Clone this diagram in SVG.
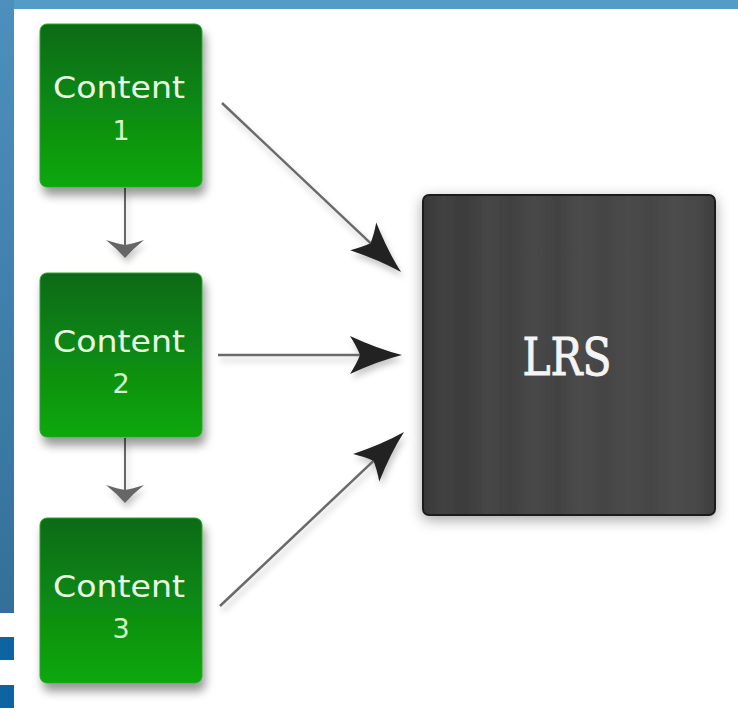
<svg xmlns="http://www.w3.org/2000/svg" width="738" height="714" viewBox="0 0 738 714">
  <defs>
    <linearGradient id="gGreen" x1="0" y1="0" x2="0" y2="1">
      <stop offset="0" stop-color="#0a6a19"/>
      <stop offset="1" stop-color="#09a80c"/>
    </linearGradient>
    <linearGradient id="gSide" x1="0" y1="0" x2="0" y2="1">
      <stop offset="0" stop-color="#4d90bd"/>
      <stop offset="1" stop-color="#346f99"/>
    </linearGradient>
    <linearGradient id="gDark" x1="0" y1="0" x2="1" y2="0">
      <stop offset="0" stop-color="#383838"/>
      <stop offset="0.07" stop-color="#424242"/>
      <stop offset="0.14" stop-color="#3c3c3c"/>
      <stop offset="0.22" stop-color="#464646"/>
      <stop offset="0.3" stop-color="#414141"/>
      <stop offset="0.38" stop-color="#484848"/>
      <stop offset="0.46" stop-color="#424242"/>
      <stop offset="0.54" stop-color="#4b4b4b"/>
      <stop offset="0.62" stop-color="#444444"/>
      <stop offset="0.7" stop-color="#4b4b4b"/>
      <stop offset="0.78" stop-color="#454545"/>
      <stop offset="0.86" stop-color="#4d4d4d"/>
      <stop offset="0.94" stop-color="#474747"/>
      <stop offset="1" stop-color="#3e3e3e"/>
    </linearGradient>
    <filter id="boxShadow" x="-20%" y="-20%" width="150%" height="150%">
      <feDropShadow dx="3" dy="8" stdDeviation="5" flood-color="#000" flood-opacity="0.4"/>
    </filter>
    <filter id="glow" x="-20%" y="-20%" width="140%" height="140%">
      <feDropShadow dx="0" dy="4" stdDeviation="7" flood-color="#000" flood-opacity="0.35"/>
    </filter>
    <filter id="lineShadow" x="-30%" y="-30%" width="160%" height="160%">
      <feDropShadow dx="2" dy="5" stdDeviation="3" flood-color="#000" flood-opacity="0.22"/>
    </filter>
    <marker id="headBig" markerUnits="userSpaceOnUse" orient="auto" refX="0" refY="0" markerWidth="80" markerHeight="60" overflow="visible">
      <path d="M42,0 Q18,-6 -10,-19 Q-3,-8 0,0 Q-3,8 -10,19 Q18,6 42,0 Z" fill="#222"/>
    </marker>
    <marker id="headSmall" markerUnits="userSpaceOnUse" orient="auto" refX="0" refY="0" markerWidth="40" markerHeight="50" overflow="visible">
      <path d="M13,0 Q3,-9 -5,-19 Q-1,-7 0,0 Q-1,7 -5,19 Q3,9 13,0 Z" fill="#666"/>
    </marker>
    <style>
      .green { fill: url(#gGreen); stroke: #2aa62a; stroke-width: 1; }
      .ctext { font-family: "DejaVu Sans", "Noto Sans", sans-serif; fill: #eafde4; text-anchor: middle; }
      .label { font-size: 31px; }
      .num { font-size: 27px; fill: #d2f7c8; }
      .diag { stroke: #6a6a6a; stroke-width: 2.5; fill: none; marker-end: url(#headBig); }
      .vert { stroke: #666; stroke-width: 2; fill: none; marker-end: url(#headSmall); }
    </style>
  </defs>

  <rect x="0" y="0" width="738" height="714" fill="#ffffff"/>
  <g id="frame">
    <rect x="0" y="0" width="738" height="9" fill="#539cc6"/>
    <rect x="0" y="0" width="14" height="613" fill="url(#gSide)"/>
    <rect x="0" y="637" width="14" height="23" fill="#0e64a0"/>
    <rect x="0" y="685" width="14" height="23" fill="#0e64a0"/>
  </g>

  <g id="connectors" filter="url(#lineShadow)">
    <line class="vert" x1="125" y1="188" x2="125" y2="245"/>
    <line class="vert" x1="125" y1="438" x2="125" y2="490"/>
    <line class="diag" x1="222" y1="103" x2="370.5" y2="243.2"/>
    <line class="diag" x1="218" y1="355" x2="360" y2="355"/>
    <line class="diag" x1="220" y1="606" x2="373.5" y2="460.9"/>
  </g>

  <g id="content1">
    <rect class="green" x="40" y="24" width="162" height="163" rx="7" filter="url(#boxShadow)"/>
    <text class="ctext label" x="119" y="98" textLength="132" lengthAdjust="spacingAndGlyphs">Content</text>
    <text class="ctext num" x="121" y="140">1</text>
  </g>

  <g id="content2">
    <rect class="green" x="40" y="273" width="162" height="164" rx="7" filter="url(#boxShadow)"/>
    <text class="ctext label" x="119" y="352" textLength="132" lengthAdjust="spacingAndGlyphs">Content</text>
    <text class="ctext num" x="121" y="393">2</text>
  </g>

  <g id="content3">
    <rect class="green" x="40" y="518" width="162" height="165" rx="7" filter="url(#boxShadow)"/>
    <text class="ctext label" x="119" y="597" textLength="132" lengthAdjust="spacingAndGlyphs">Content</text>
    <text class="ctext num" x="121" y="638">3</text>
  </g>

  <g id="lrs">
    <rect x="423" y="195" width="292" height="320" rx="6" fill="url(#gDark)" stroke="#1e1e1e" stroke-width="2" filter="url(#glow)"/>
    <text x="567" y="375" font-family="DejaVu Serif, 'Liberation Serif', serif" font-size="52" fill="#f4f4f4" stroke="#f4f4f4" stroke-width="1" text-anchor="middle" textLength="89" lengthAdjust="spacingAndGlyphs">LRS</text>
  </g>
</svg>
